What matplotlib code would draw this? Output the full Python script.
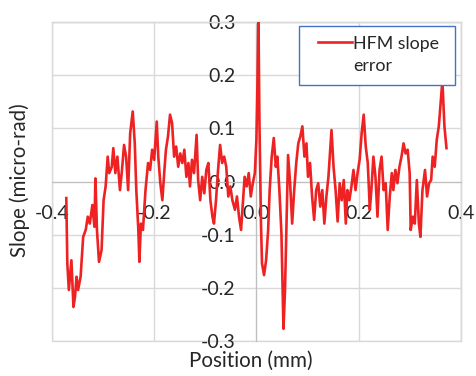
import matplotlib
matplotlib.use("Agg")
import matplotlib.pyplot as plt
from matplotlib.patches import Rectangle
from matplotlib.lines import Line2D

plt.rcParams['font.family'] = ['Lato', 'DejaVu Sans']

position = [-0.372, -0.370, -0.367, -0.362, -0.358, -0.355, -0.352, -0.349, -0.344, -0.339,
            -0.334, -0.330, -0.326, -0.321, -0.317, -0.315, -0.312, -0.308, -0.303, -0.299,
            -0.295, -0.291, -0.288, -0.283, -0.280, -0.276, -0.272, -0.267, -0.263, -0.259,
            -0.255, -0.251, -0.247, -0.242, -0.238, -0.235, -0.231, -0.229, -0.226, -0.222,
            -0.217, -0.212, -0.208, -0.204, -0.200, -0.195, -0.192, -0.188, -0.184, -0.180,
            -0.177, -0.173, -0.169, -0.165, -0.161, -0.157, -0.153, -0.149, -0.145, -0.141,
            -0.137, -0.133, -0.130, -0.126, -0.122, -0.117, -0.114, -0.110, -0.106, -0.102,
            -0.098, -0.094, -0.090, -0.086, -0.083, -0.079, -0.075, -0.071, -0.067, -0.063,
            -0.059, -0.055, -0.051, -0.047, -0.042, -0.038, -0.034, -0.030, -0.026, -0.023,
            -0.019, -0.015, -0.011, -0.007, -0.003, -0.000, 0.002, 0.004, 0.006, 0.009,
            0.011, 0.015, 0.019, 0.023, 0.026, 0.030, 0.034, 0.038, 0.041, 0.045,
            0.049, 0.053, 0.056, 0.059, 0.062, 0.066, 0.070, 0.074, 0.078, 0.082,
            0.086, 0.090, 0.094, 0.098, 0.101, 0.105, 0.109, 0.113, 0.117, 0.121,
            0.125, 0.129, 0.133, 0.137, 0.141, 0.145, 0.147, 0.151, 0.155, 0.159,
            0.163, 0.167, 0.171, 0.175, 0.178, 0.182, 0.186, 0.190, 0.194, 0.198,
            0.202, 0.206, 0.210, 0.214, 0.218, 0.222, 0.225, 0.229, 0.233, 0.237,
            0.241, 0.245, 0.249, 0.253, 0.257, 0.261, 0.265, 0.268, 0.272, 0.276,
            0.280, 0.284, 0.288, 0.292, 0.296, 0.300, 0.302, 0.306, 0.310, 0.314,
            0.318, 0.321, 0.325, 0.330, 0.334, 0.338, 0.342, 0.345, 0.349, 0.353,
            0.357, 0.361, 0.364, 0.368, 0.372]
slope = [-0.031, -0.154, -0.204, -0.148, -0.236, -0.217, -0.179, -0.204, -0.179, -0.104,
         -0.091, -0.066, -0.079, -0.044, -0.085, 0.006, -0.091, -0.151, -0.129, -0.035,
         -0.009, 0.047, 0.016, 0.028, 0.063, 0.016, 0.047, -0.016, 0.022, 0.069,
         0.047, -0.016, 0.091, 0.132, 0.072, -0.016, -0.091, -0.151, -0.079, -0.091,
         -0.016, 0.035, 0.022, 0.060, 0.041, 0.113, 0.047, -0.003, -0.035, 0.022,
         0.060, 0.085, 0.126, 0.110, 0.047, 0.066, 0.028, 0.053, 0.035, 0.060,
         0.009, 0.035, -0.009, 0.041, 0.016, 0.088, 0.003, -0.035, 0.009, -0.022,
         0.022, 0.035, -0.035, -0.066, -0.079, -0.035, 0.022, 0.069, 0.035, 0.047,
         0.028, -0.028, -0.009, -0.035, -0.053, -0.028, -0.066, -0.091, -0.035, 0.009,
         -0.009, 0.016, -0.028, -0.003, 0.016, 0.079, 0.180, 0.310, 0.110, -0.079,
         -0.154, -0.176, -0.148, -0.091, -0.016, 0.047, 0.082, 0.028, 0.047, -0.016,
         -0.097, -0.277, -0.204, -0.079, 0.050, -0.003, -0.079, -0.016, 0.035, 0.072,
         0.085, 0.104, 0.047, 0.072, 0.009, 0.035, -0.028, -0.072, -0.016, -0.003,
         -0.047, -0.016, -0.079, -0.028, 0.009, 0.066, 0.097, 0.028, -0.016, -0.075,
         -0.003, -0.035, 0.003, -0.079, -0.016, -0.035, -0.009, 0.022, -0.016, 0.016,
         0.041, 0.091, 0.126, 0.066, 0.035, -0.053, -0.016, 0.047, 0.009, -0.066,
         0.022, 0.047, -0.016, -0.003, -0.091, -0.028, 0.016, -0.016, 0.022, -0.003,
         0.028, 0.047, 0.072, 0.053, 0.060, 0.016, -0.091, -0.066, -0.079, 0.003,
         -0.079, -0.104, -0.016, 0.022, -0.028, -0.003, 0.003, 0.047, 0.028, 0.079,
         0.104, 0.154, 0.190, 0.104, 0.063]

x_ticks = [-0.4, -0.2, 0.0, 0.2, 0.4]
y_ticks = [-0.3, -0.2, -0.1, 0.0, 0.1, 0.2, 0.3]
series_label = "HFM slope\nerror"

fig = plt.figure(figsize=(4.77, 3.76), dpi=100)
ax = fig.add_axes([0.109, 0.093, 0.857, 0.848])
ax.set_xlim(-0.4, 0.4)
ax.set_ylim(-0.3, 0.3)

grid_c = '#d9d9d9'
text_c = '#262626'
line_c = '#ee2222'
ax.set_xticks(x_ticks)
ax.set_yticks(y_ticks)
ax.grid(True, color=grid_c, linewidth=1.0)
ax.set_axisbelow(True)

for s in ['top', 'right']:
    ax.spines[s].set_color(grid_c)
    ax.spines[s].set_linewidth(1.0)
ax.spines['left'].set_position('zero')
ax.spines['bottom'].set_position('zero')
ax.spines['left'].set_color('#bfbfbf')
ax.spines['bottom'].set_color('#bfbfbf')
ax.add_patch(Rectangle((0, 0), 1, 1, transform=ax.transAxes, fill=False,
                       edgecolor=grid_c, linewidth=1.0, zorder=0.5, clip_on=False))

ax.set_xticklabels([f"{v:.1f}" for v in x_ticks])
ax.set_yticklabels([f"{v:.1f}" for v in y_ticks])
ax.tick_params(axis='x', length=0, pad=17, labelsize=14, colors=text_c)
ax.tick_params(axis='y', length=0, pad=15, labelsize=14, colors=text_c)

ax.plot(position, slope, color=line_c, linewidth=1.9, zorder=3, clip_on=True)

fig.text(0.525, 0.040, "Position (mm)", ha='center', va='center', fontsize=14.8, color=text_c)
fig.text(0.042, 0.521, "Slope (micro-rad)", ha='center', va='center', rotation=90,
         fontsize=14.8, color=text_c)

# legend box
lx0, lx1, ly0, ly1 = 0.604, 0.985, 0.802, 0.987
ax.add_patch(Rectangle((lx0, ly0), lx1 - lx0, ly1 - ly0, transform=ax.transAxes,
                       facecolor='white', edgecolor='#4472c4', linewidth=1.0, zorder=5))
ax.add_line(Line2D([0.651, 0.734], [0.937, 0.937], transform=ax.transAxes,
                   color=line_c, linewidth=1.9, zorder=6))
ax.text(0.737, 0.897, series_label, transform=ax.transAxes, ha='left', va='center',
        fontsize=12.8, color=text_c, zorder=6, linespacing=1.45)

fig.savefig("out.png", dpi=100)
